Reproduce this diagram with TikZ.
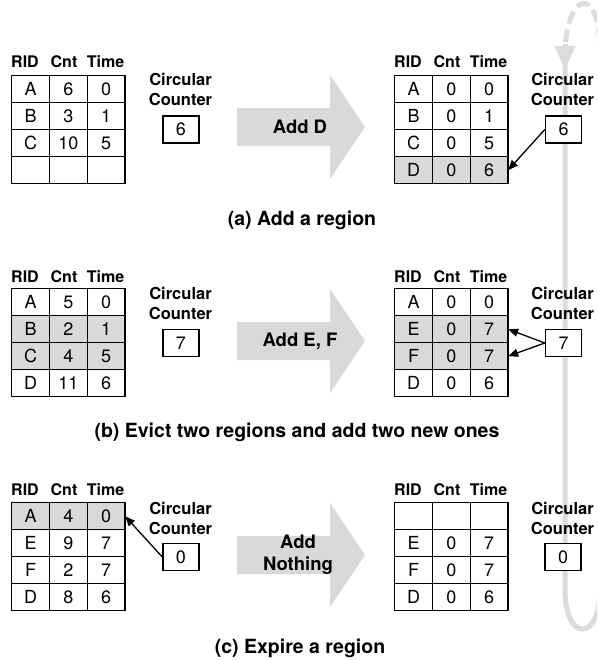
\documentclass[tikz,border=0pt]{standalone}
\usepackage{fontspec}
\setmainfont{TeX Gyre Heros}
\usetikzlibrary{matrix,arrows.meta}
\definecolor{shadegray}{HTML}{D9D9D9}
\definecolor{arrowgray}{HTML}{D9D9D9}
\definecolor{loopgray}{HTML}{DCDCDC}
\newcommand\cellfont{\fontsize{18}{20}\selectfont}
\newcommand\hdrfont{\bfseries\fontsize{16}{19}\selectfont}
\newcommand\ccfont{\bfseries\fontsize{16.5}{20}\selectfont}
\newcommand\arrfont{\bfseries\fontsize{18.5}{22}\selectfont}
\newcommand\capfont{\bfseries\fontsize{19.5}{22}\selectfont}
\tikzset{
  cell/.style={draw, line width=1.4pt, minimum width=37.8pt, minimum height=27pt,
    inner sep=0pt, outer sep=0pt, font=\cellfont, anchor=center},
  tab/.style={matrix of nodes, nodes in empty cells, inner sep=0pt, outer sep=0pt,
    column sep=-1.4pt, row sep=-1.4pt, anchor=north west, nodes={cell}},
  shaded/.style={row #1/.style={nodes={fill=shadegray}}},
  hdr/.style={font=\hdrfont, inner sep=0pt},
  cc/.style={font=\ccfont, align=center, inner sep=0pt, anchor=north},
  cbox/.style={draw, fill=white, line width=1.4pt, minimum width=36pt, minimum height=27pt,
    inner sep=0pt, font=\cellfont},
  blk/.style={line width=1.3pt, -{Triangle[length=10pt,width=8pt]}},
  arrtext/.style={font=\arrfont, align=center, inner sep=0pt},
  captext/.style={font=\capfont, inner sep=0pt, anchor=base},
}
\newcommand\hdrrow[3]{%
  \node[hdr, anchor=base west] (#1-rid) at (#2,#3) {RID};
  \node[hdr, anchor=base] (#1-cnt) at ({#2+53},#3) {Cnt};
  \node[hdr, anchor=base east] (#1-time) at ({#2+113.4},#3) {Time};}
\newcommand\bigarrow[1]{%
  \fill[arrowgray] (237,{#1-19}) -- (330,{#1-19}) -- (330,{#1-52}) -- (365,#1)
    -- (330,{#1+52}) -- (330,{#1+19}) -- (237,{#1+19}) -- cycle;}
\begin{document}
\begin{tikzpicture}[x=1pt,y=-1pt]
\path[use as bounding box] (0,0) rectangle (597,660);

% wrap-around loop of the circular counter
\begin{scope}
\clip (0,0) rectangle (597,660);
\draw[loopgray, line width=5pt] (565,62) -- (565,590)
  .. controls (565,642) and (600,642) .. (600,590) -- (600,60);
\draw[loopgray, line width=5pt, dash pattern=on 13pt off 6pt]
  (600,60) .. controls (602,-14) and (570,-12) .. (565,46);
\draw[loopgray, line width=5pt, -{Triangle[length=24pt,width=20pt]}] (565,44) -- (565,70);
\end{scope}

% ---------- (a) ----------
\hdrrow{ha}{11}{68}
\matrix (ta) [tab] at (11,75) {
  A & 6 & 0 \\
  B & 3 & 1 \\
  C & 10 & 5 \\
    &   &   \\
};
\node[cc] (cca) at (180.5,73) {Circular\\Counter};
\node[cbox] (ba) at (181,129.5) {6};
\bigarrow{127}
\node[arrtext] (aa) at (300,127) {Add D};
\hdrrow{hra}{394}{68}
\matrix (tra) [tab, shaded=4] at (394,75) {
  A & 0 & 0 \\
  B & 0 & 1 \\
  C & 0 & 5 \\
  D & 0 & 6 \\
};
\node[cc] (ccra) at (562.5,73) {Circular\\Counter};
\node[cbox] (bra) at (563.5,129.5) {6};
\draw[blk] (bra.west) -- (tra-4-3.east);
\node[captext] (capa) at (302,225) {(a) Add a region};

% ---------- (b) ----------
\hdrrow{hb}{11}{282}
\matrix (tb) [tab, shaded=2, shaded=3] at (11,288) {
  A & 5 & 0 \\
  B & 2 & 1 \\
  C & 4 & 5 \\
  D & 11 & 6 \\
};
\node[cc] (ccb) at (180.5,287) {Circular\\Counter};
\node[cbox] (bb) at (181,343) {7};
\bigarrow{341}
\node[arrtext] (ab) at (300,341) {Add E, F};
\hdrrow{hrb}{394}{282}
\matrix (trb) [tab, shaded=2, shaded=3] at (394,288) {
  A & 0 & 0 \\
  E & 0 & 7 \\
  F & 0 & 7 \\
  D & 0 & 6 \\
};
\node[cc] (ccrb) at (562.5,287) {Circular\\Counter};
\node[cbox] (brb) at (563.5,343) {7};
\draw[blk] (brb.west) -- (trb-2-3.east);
\draw[blk] (brb.west) -- (trb-3-3.east);
\node[captext] (capb) at (297,437) {(b) Evict two regions and add two new ones};

% ---------- (c) ----------
\hdrrow{hc}{11}{495}
\matrix (tc) [tab, shaded=1] at (11,502) {
  A & 4 & 0 \\
  E & 9 & 7 \\
  F & 2 & 7 \\
  D & 8 & 6 \\
};
\node[cc] (ccc) at (180.5,502) {Circular\\Counter};
\node[cbox] (bc) at (181,557) {0};
\draw[blk] (bc.west) -- (tc-1-3.east);
\bigarrow{555}
\node[arrtext] (ac) at (298,555) {Add\\Nothing};
\hdrrow{hrc}{394}{495}
\matrix (trc) [tab] at (394,502) {
    &   &   \\
  E & 0 & 7 \\
  F & 0 & 7 \\
  D & 0 & 6 \\
};
\node[cc] (ccrc) at (562.5,502) {Circular\\Counter};
\node[cbox] (brc) at (563,557) {0};
\node[captext] (capc) at (300,653) {(c) Expire a region};
\end{tikzpicture}
\end{document}
